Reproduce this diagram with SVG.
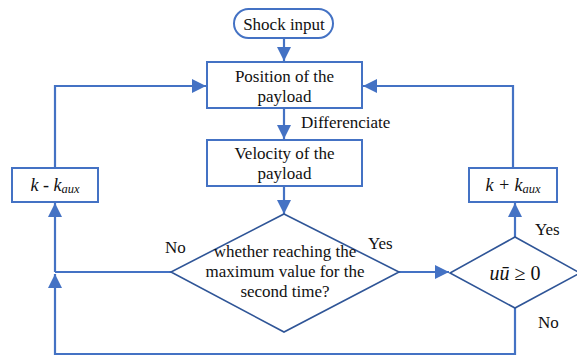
<svg xmlns="http://www.w3.org/2000/svg" width="577" height="358" viewBox="0 0 577 358" font-family="'Liberation Serif', 'Times New Roman', serif">
<style>
text{font-family:'Liberation Serif','Times New Roman',serif;fill:#111;font-size:17px;}
.box{fill:#fff;stroke:#4472C4;stroke-width:2;}
.dia{fill:#fff;stroke:#2F5597;stroke-width:1.6;}
.ln{fill:none;stroke:#4472C4;stroke-width:2.2;}
.t{text-anchor:middle;}
.m{font-size:18px;text-anchor:middle;font-style:italic;}
.s{font-size:12.5px;}
</style>
<defs>
<marker id="ah" viewBox="0 0 10 10" refX="10" refY="5" markerWidth="6.5" markerHeight="6.5" markerUnits="strokeWidth" orient="auto">
<path d="M0,0 L10,5 L0,10 z" fill="#4472C4"/>
</marker>
</defs>
<g id="connectors">
<path class="ln" d="M284,39 V61" marker-end="url(#ah)"/>
<path class="ln" d="M284,108 V139" marker-end="url(#ah)"/>
<path class="ln" d="M284,186 V214" marker-end="url(#ah)"/>
<path class="ln" d="M171,272 H55"/>
<path class="ln" d="M55,272 V203" marker-end="url(#ah)"/>
<path class="ln" d="M55,168 V86 H206" marker-end="url(#ah)"/>
<path class="ln" d="M399,272 H449" marker-end="url(#ah)"/>
<path class="ln" d="M515,237 V203" marker-end="url(#ah)"/>
<path class="ln" d="M513,168 V86 H363" marker-end="url(#ah)"/>
<path class="ln" d="M515,308 V354 H55 V274" marker-end="url(#ah)"/>
</g>
<g id="shock">
<rect class="box" x="234" y="9" width="99" height="29" rx="14.5"/>
<text class="t" x="284" y="30">Shock input</text>
</g>
<g id="position">
<rect class="box" x="207" y="62" width="155" height="46"/>
<text class="t" x="284.5" y="82">Position of the</text>
<text class="t" x="284.5" y="102">payload</text>
</g>
<text x="301" y="128">Differenciate</text>
<g id="velocity">
<rect class="box" x="207" y="140" width="155" height="46"/>
<text class="t" x="284.5" y="159">Velocity of the</text>
<text class="t" x="284.5" y="179">payload</text>
</g>
<g id="decision1">
<polygon class="dia" points="284,214 399,272 284,332 171,272"/>
<text class="t" x="285" y="257">whether reaching the</text>
<text class="t" x="285" y="277">maximum value for the</text>
<text class="t" x="285" y="297">second time?</text>
</g>
<text x="165" y="253">No</text>
<text x="368" y="249">Yes</text>
<g id="kminus">
<rect class="box" x="12" y="168" width="86" height="34"/>
<text class="m" x="55" y="191">k - k<tspan class="s" dy="2">aux</tspan></text>
</g>
<g id="decision2">
<polygon class="dia" points="515,237 580,273 515,308 450,273"/>
<text class="m" x="515" y="280" style="font-size:20px">uū <tspan font-style="normal">≥ 0</tspan></text>
</g>
<text x="535" y="235">Yes</text>
<text x="538" y="328">No</text>
<g id="kplus">
<rect class="box" x="469" y="168" width="88" height="34"/>
<text class="m" x="513" y="191">k + k<tspan class="s" dy="2">aux</tspan></text>
</g>
</svg>
